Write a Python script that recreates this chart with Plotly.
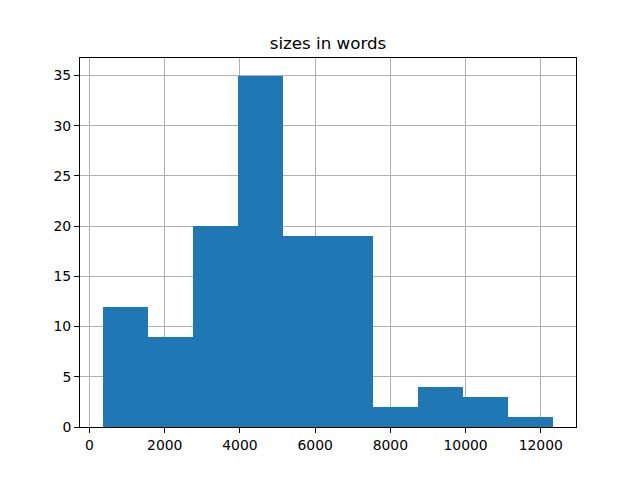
import plotly.graph_objects as go

# Histogram data (pandas-style, 10 bins)
bin_start = 347
bin_width = 1199
counts = [12, 9, 20, 35, 19, 19, 2, 4, 3, 1]
x_ticks = [0, 2000, 4000, 6000, 8000, 10000, 12000]
y_ticks = [0, 5, 10, 15, 20, 25, 30, 35]
title_text = "sizes in words"

centers = [bin_start + bin_width * (i + 0.5) for i in range(len(counts))]
lo = bin_start
hi = bin_start + bin_width * len(counts)
pad = 0.05 * (hi - lo)

fig = go.Figure(go.Bar(
    x=centers, y=counts, width=[bin_width] * len(counts),
    marker=dict(color="#1f77b4", line=dict(width=0)),
    hoverinfo="skip",
))

axis_common = dict(
    showline=True, linecolor="black", linewidth=1, mirror=True,
    ticks="outside", ticklen=5, tickwidth=1, tickcolor="black",
    showgrid=True, gridcolor="#b0b0b0", gridwidth=1,
    zeroline=False, layer="above traces",
    tickfont=dict(family="DejaVu Sans", size=13.9, color="black"),
)

fig.update_layout(
    width=640, height=480,
    margin=dict(l=80, r=64, t=58, b=53),
    paper_bgcolor="white", plot_bgcolor="white",
    showlegend=False, bargap=0,
    title=dict(text=title_text, x=0.5, xref="paper", xanchor="center",
               y=1 - 43 / 480, yref="container", yanchor="middle",
               font=dict(family="DejaVu Sans", size=16.7, color="black")),
    xaxis=dict(range=[lo - pad, hi + pad], tickvals=x_ticks,
               ticktext=[str(v) for v in x_ticks], **axis_common),
    yaxis=dict(range=[0, max(counts) * 1.05], tickvals=y_ticks, **axis_common),
)

fig.write_html("out.html", config={"displayModeBar": False, "staticPlot": True},
               post_script="document.body.style.margin='0';document.body.style.overflow='hidden';")
